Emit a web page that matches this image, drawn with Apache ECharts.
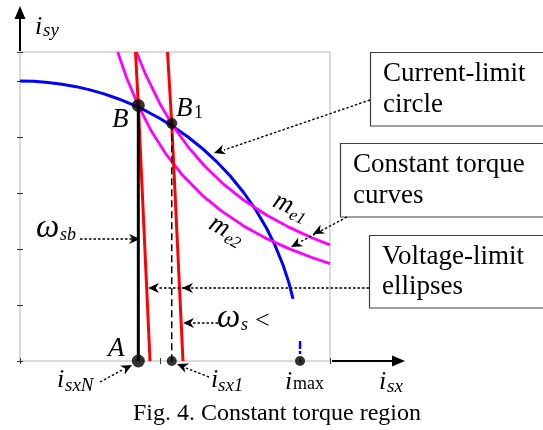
<!DOCTYPE html>
<html><head><meta charset="utf-8">
<script src="https://cdn.jsdelivr.net/npm/echarts@6/dist/echarts.min.js"></script>
<style>html,body{margin:0;padding:0;background:#fff}#c{width:543px;height:430px}</style>
</head><body><div id="c"></div>
<script>
// axis ranges (normalised to I_max = 1)
const xRange = [0, 1.107];
const yRange = [0, 1.1036];
const xTickStep = 0.5;
const yTickStep = 0.2;

// current-limit circle (blue)
const currentCircle = [[0,1.0],[0.05,0.9988],[0.1,0.995],[0.15,0.9887],[0.2,0.9798],[0.25,0.9682],[0.3,0.9539],[0.35,0.9367],[0.4,0.9165],[0.45,0.893],[0.5,0.866],[0.55,0.8352],[0.6,0.8],[0.65,0.76],[0.7,0.7141],[0.75,0.6614],[0.8,0.6],[0.84,0.5426],[0.88,0.475],[0.91,0.4146],[0.94,0.3412],[0.96,0.28],[0.975,0.222]];
// constant torque curves (magenta)
const torqueMe1 = [[0.416,1.1034],[0.45,1.02],[0.5,0.918],[0.546,0.8407],[0.6,0.765],[0.66,0.6955],[0.73,0.6288],[0.8,0.5738],[0.88,0.5216],[0.96,0.4781],[1.04,0.4413],[1.107,0.4146]];
const torqueMe2 = [[0.349,1.1037],[0.38,1.0137],[0.421,0.915],[0.47,0.8196],[0.52,0.7408],[0.58,0.6641],[0.65,0.5926],[0.72,0.535],[0.8,0.4815],[0.88,0.4377],[0.96,0.4013],[1.04,0.3704],[1.107,0.348]];
// voltage-limit ellipses (red)
const voltageEllipse1 = [[0.4125,1.1036],[0.4225,0.9125],[0.4434,0.4563],[0.4643,0]];
const voltageEllipse2 = [[0.5268,1.1036],[0.5418,0.849],[0.5619,0.4245],[0.582,0]];
// operating points
const pointB = [0.4225, 0.9125];
const pointB1 = [0.5418, 0.849];
const pointA = [0.4225, 0];
const pointIsx1 = [0.5418, 0];
const pointImax = [1.0, 0];
const imaxMark = [[1.0, 0.071], [1.0, 0.025]];

const chart = echarts.init(document.getElementById('c'), null, {renderer:'canvas'});
const FF = '"Liberation Serif", "Times New Roman", serif';
function axisCommon(){
  return {type:'value', axisLine:{show:false}, axisLabel:{show:false}, splitLine:{show:false},
    axisTick:{show:true, inside:true, length:3, lineStyle:{color:'#333', width:1}}};
}
const line = (data, color, width, extra={}) => Object.assign({type:'line', data, showSymbol:false, symbol:'none', clip:false,
  lineStyle:{color, width}, itemStyle:{color}, silent:true, animation:false}, extra);

chart.setOption({
  animation:false,
  grid:{left:20, top:52, width:310, height:309, show:true, borderColor:'#b4b4b4', borderWidth:1},
  xAxis:[Object.assign(axisCommon(),{position:'bottom', min:xRange[0], max:xRange[1], interval:xTickStep}),
         Object.assign(axisCommon(),{position:'top', min:xRange[0], max:xRange[1], interval:xTickStep})],
  yAxis:[Object.assign(axisCommon(),{position:'left', min:yRange[0], max:yRange[1], interval:yTickStep}),
         Object.assign(axisCommon(),{position:'right', min:yRange[0], max:yRange[1], interval:yTickStep})],
  series:[
    line(currentCircle, '#0000ff', 3),
    line(torqueMe1, '#ff00ff', 2.8),
    line(torqueMe2, '#ff00ff', 2.8),
    line(voltageEllipse1, '#ff0000', 3),
    line(voltageEllipse2, '#ff0000', 3),
    line([pointB, pointA], '#000000', 3),
    line([pointB1, pointIsx1], '#000000', 1.5, {lineStyle:{color:'#000', width:1.5, type:[7,4]}}),
    line(imaxMark, '#0000ff', 2.5, {lineStyle:{color:'#0000ff', width:2.5, type:[8,2]}}),
    {type:'scatter', data:[pointB, pointA], symbolSize:13, itemStyle:{color:'#000'}, silent:true, z:5},
    {type:'scatter', data:[pointB1], symbolSize:11, itemStyle:{color:'#000'}, silent:true, z:5},
    {type:'scatter', data:[pointIsx1, pointImax], symbolSize:10, itemStyle:{color:'#000'}, silent:true, z:5}
  ]
});

const px = p => chart.convertToPixel({gridIndex:0}, p);
const G = [];
function T(text, x, base, size, italic, align){
  G.push({type:'text', x:x, y:base - 0.305*size, z:100, silent:true,
    style:{text, fill:'#000', fontSize:size, fontFamily:FF, fontStyle: italic?'italic':'normal',
      align: align||'left', verticalAlign:'middle'}});
}
function head(tip, from, len, half){
  len = len||11; half = half||5;
  const dx = tip[0]-from[0], dy = tip[1]-from[1], L = Math.hypot(dx,dy);
  const ux = dx/L, uy = dy/L, bx = tip[0]-ux*len, by = tip[1]-uy*len;
  G.push({type:'polygon', z:101, silent:true, shape:{points:[tip,[bx-uy*half, by+ux*half],[tip[0]-ux*len*0.7, tip[1]-uy*len*0.7],[bx+uy*half, by-ux*half]]}, style:{fill:'#000'}});
}
function dotted(a, b){
  G.push({type:'line', z:99, silent:true, shape:{x1:a[0],y1:a[1],x2:b[0],y2:b[1]}, style:{stroke:'#000', lineWidth:1.4, lineDash:[2.5,2]}});
}
function box(x, y, w, h){
  G.push({type:'rect', z:98, silent:true, shape:{x, y, width:w, height:h}, style:{fill:'#fff', stroke:'#404040', lineWidth:1.2}});
}

// axis arrows
const cTop = px([0,yRange[1]]), cRight = px([xRange[1],0]);
G.push({type:'line', z:100, silent:true, shape:{x1:cTop[0], y1:cTop[1]-1, x2:cTop[0], y2:16}, style:{stroke:'#000', lineWidth:2}});
G.push({type:'polygon', z:100, silent:true, shape:{points:[[cTop[0],6],[cTop[0]-5.5,19],[cTop[0]+5.5,19]]}, style:{fill:'#000'}});
G.push({type:'line', z:100, silent:true, shape:{x1:cRight[0]+2, y1:cRight[1], x2:394, y2:cRight[1]}, style:{stroke:'#000', lineWidth:2}});
G.push({type:'polygon', z:100, silent:true, shape:{points:[[405,cRight[1]],[392,cRight[1]-5.5],[392,cRight[1]+5.5]]}, style:{fill:'#000'}});

// axis labels
T('i', 35, 35, 26, true); T('sy', 43, 37, 19, true);
T('i', 379, 390, 26, true); T('sx', 387, 393, 19, true);
T('i', 285, 390, 26, true); T('max', 293, 390, 18, false);
T('i', 211, 388, 26, true); T('sx1', 218, 392, 19, true);
T('i', 57, 388, 26, true); T('sxN', 65, 392, 19, true);

// point labels
T('B', 112, 128, 27, true);
T('B', 176, 117, 27, true); T('1', 194, 119, 18, false);
T('A', 108, 357, 27, true);

// omega labels
T('ω', 36, 238, 33, true); T('sb', 60, 241, 18, true);
dotted([80,239],[132,239]); head([140,239],[80,239]);
T('ω', 217, 328, 33, true); T('s', 241, 331, 18, true); T('<', 255, 329, 26, false);
dotted([218,323],[190,323]); head([183,323],[218,323]);

// i_sxN, i_sx1 arrows
dotted([100,382],[122,370]); head([132,365],[100,382]);
dotted([209,377],[186,368]); head([177,364],[209,377]);

// torque curve labels (rotated)
G.push({type:'group', x:271, y:207, rotation:-0.42, z:100, children:[
  {type:'text', x:0, y:-0.305*27, style:{text:'m', fontSize:27, fontFamily:FF, fontStyle:'italic', fill:'#000', verticalAlign:'middle'}},
  {type:'text', x:20, y:4-0.305*17, style:{text:'e1', fontSize:17, fontFamily:FF, fontStyle:'italic', fill:'#000', verticalAlign:'middle'}}]});
G.push({type:'group', x:207, y:229, rotation:-0.5, z:100, children:[
  {type:'text', x:0, y:-0.305*27, style:{text:'m', fontSize:27, fontFamily:FF, fontStyle:'italic', fill:'#000', verticalAlign:'middle'}},
  {type:'text', x:20, y:4-0.305*17, style:{text:'e2', fontSize:17, fontFamily:FF, fontStyle:'italic', fill:'#000', verticalAlign:'middle'}}]});

// boxes
box(370.5, 52.5, 200, 73.5);
T('Current-limit', 383, 82, 27, false); T('circle', 383, 113, 27, false);
dotted([370,100],[224,150]); head([214,153],[370,100]);

box(340.5, 143.5, 230, 73.5);
T('Constant torque', 353, 173, 27, false); T('curves', 353, 204, 27, false);
dotted([347,217],[300,242]); head([313,234],[347,217]); head([291,247],[347,217]);

box(369.5, 235.5, 200, 72.5);
T('Voltage-limit', 382, 265, 27, false); T('ellipses', 382, 295, 27, false);
dotted([369,288],[158,288]); head([182,288],[369,288]); head([148,288],[369,288]);

// caption
T('Fig. 4. Constant torque region', 277, 421, 24, false, 'center');

chart.setOption({graphic:G});
</script></body></html>
